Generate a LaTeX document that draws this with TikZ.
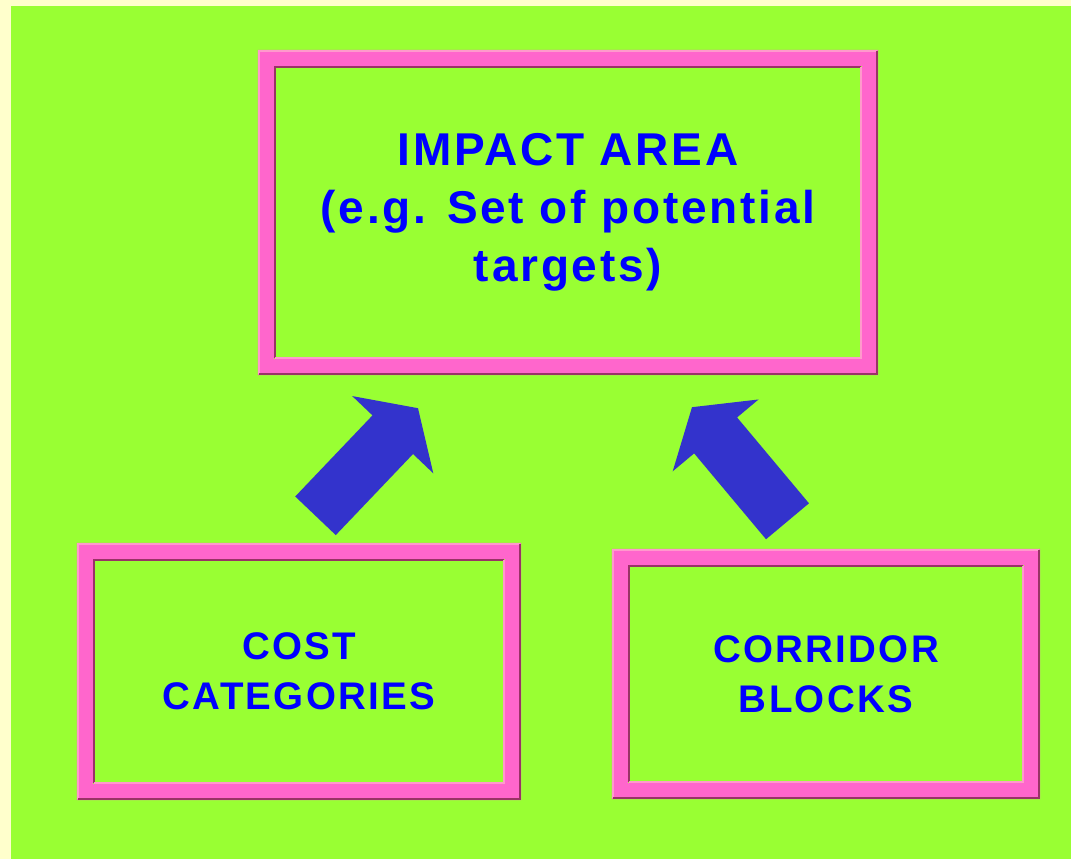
\documentclass[tikz,border=0pt]{standalone}
\usepackage{fontspec}
\newfontfamily\bigboxfont[LetterSpace=6.0]{Liberation Sans}
\newfontfamily\smallboxfont[LetterSpace=6.0]{Liberation Sans}
\usetikzlibrary{calc,positioning}
\definecolor{paleyellow}{HTML}{FFFFCC}
\definecolor{bggreen}{HTML}{99FF33}
\definecolor{framepink}{HTML}{FF66CC}
\definecolor{framelight}{HTML}{FF99CC}
\definecolor{framedark}{HTML}{993366}
\definecolor{arrowblue}{HTML}{3333CC}
\definecolor{txtblue}{HTML}{0000FF}

\begin{document}
\begin{tikzpicture}[x=1pt,y=1pt,line join=miter,
  box/.style={inner sep=0pt,text=txtblue,align=center},
  bigtext/.style={font=\bigboxfont\bfseries\fontsize{46}{58}\selectfont},
  smalltext/.style={font=\smallboxfont\bfseries\fontsize{38.5}{50}\selectfont}]
\useasboundingbox (0,0) rectangle (1071,859);
\fill[paleyellow] (0,0) rectangle (1071,859);
\fill[bggreen] (11,0) rectangle (1071,853);
\node[box,bigtext,minimum width=588pt,minimum height=293pt] (impact) at (568,646.5) {IMPACT AREA\\(e.g. Set of potential\\targets)};
\node[box,smalltext,minimum width=412pt,minimum height=225pt] (cost) at (299,187.5) {COST\\CATEGORIES};
\node[box,smalltext,minimum width=396pt,minimum height=218pt] (corridor) at (826,185) {CORRIDOR\\BLOCKS};
\foreach \n in {impact,cost,corridor}{
  \fill[framepink,even odd rule] ($(\n.south west)+(-16,-16)$) rectangle ($(\n.north east)+(16,16)$) (\n.south west) rectangle (\n.north east);
  \draw[framelight,line width=2.5pt] ($(\n.south west)+(-14.8,-14.8)$) |- ($(\n.north east)+(14.8,14.8)$);
  \draw[framedark,line width=2.5pt] ($(\n.north east)+(14.8,14.8)$) |- ($(\n.south west)+(-14.8,-14.8)$);
  \draw[framedark,line width=2.5pt] ($(\n.south west)+(1.2,1.2)$) |- ($(\n.north east)+(-1.2,-1.2)$);
  \draw[framelight,line width=2.5pt] ($(\n.north east)+(-1.2,-1.2)$) |- ($(\n.south west)+(1.2,1.2)$);
}
\coordinate (tailL) at ($(cost.north)+(16.5,43)$);
\coordinate (tipL) at ($(impact.south)+(-150,-49)$);
\coordinate (tailR) at ($(corridor.north)+(-38.5,43.5)$);
\coordinate (tipR) at ($(impact.south)+(124,-48)$);
\foreach \t/\h in {tailL/tipL,tailR/tipR}{
  \coordinate (base) at ($(\t)!112pt!(\h)$);
  \fill[arrowblue] ($(\t)!28pt!90:(\h)$) -- ($(base)!28pt!90:(\h)$) -- ($(base)!56pt!90:(\h)$) -- (\h) -- ($(base)!56pt!-90:(\h)$) -- ($(base)!28pt!-90:(\h)$) -- ($(\t)!28pt!-90:(\h)$) -- cycle;
}
\end{tikzpicture}
\end{document}
